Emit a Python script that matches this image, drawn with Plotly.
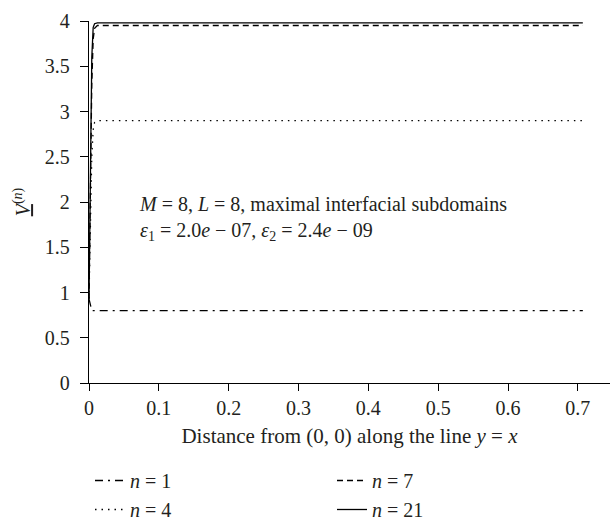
import plotly.graph_objects as go

# Data
dist = [0.0, 0.002, 0.004, 0.006, 0.008, 0.012, 0.7071]
v_n1 = [0.93, 0.86, 0.80, 0.80, 0.80, 0.80, 0.80]
v_n4 = [0.93, 1.80, 2.50, 2.80, 2.88, 2.90, 2.90]
v_n7 = [0.93, 2.20, 3.30, 3.80, 3.92, 3.95, 3.95]
v_n21 = [0.93, 2.40, 3.60, 3.93, 3.97, 3.98, 3.98]

x_ticks = [0, 0.1, 0.2, 0.3, 0.4, 0.5, 0.6, 0.7]
x_tick_labels = ["0", "0.1", "0.2", "0.3", "0.4", "0.5", "0.6", "0.7"]
y_ticks = [0, 0.5, 1, 1.5, 2, 2.5, 3, 3.5, 4]
y_tick_labels = ["0", "0.5", "1", "1.5", "2", "2.5", "3", "3.5", "4"]

FONT = "Liberation Serif"
INK = "#231f20"
TXT = dict(family=FONT, size=20, color=INK)

series = [
    ("<i>n</i> = 1", v_n1, "8px,5px,2px,5px", "legend", "g1"),
    ("<i>n</i> = 4", v_n4, "1.5px,5px", "legend", "g2"),
    ("<i>n</i> = 7", v_n7, "6px,4px", "legend2", "g3"),
    ("<i>n</i> = 21", v_n21, "solid", "legend2", "g4"),
]

fig = go.Figure()
for name, vals, dash, leg, grp in series:
    fig.add_trace(go.Scatter(
        x=dist, y=vals, mode="lines", name=name,
        line=dict(color="black", width=1.3, dash=dash),
        legend=leg, legendgroup=grp,
    ))

legend_common = dict(
    orientation="v", font=TXT,
    bgcolor="rgba(0,0,0,0)", borderwidth=0, tracegroupgap=0,
    xref="container", yref="container", yanchor="top", xanchor="left",
    itemwidth=30,
)

fig.update_layout(
    width=610, height=519,
    margin=dict(l=89, r=0, t=21, b=136, autoexpand=False),
    plot_bgcolor="white", paper_bgcolor="white",
    font=TXT,
    showlegend=True,
    legend=dict(x=90 / 610, y=1 - 461 / 519, **legend_common),
    legend2=dict(x=332 / 610, y=1 - 461 / 519, **legend_common),
    annotations=[
        dict(
            x=0.069, y=1.82, xref="x", yref="y", xanchor="left", yanchor="middle",
            align="left", showarrow=False,
            text=("<i>M</i> = 8, <i>L</i> = 8, maximal interfacial subdomains<br>"
                  "<i>ε</i><sub>1</sub> = 2.0<i>e</i> − 07, <i>ε</i><sub>2</sub> = 2.4<i>e</i> − 09"),
            font=TXT,
        ),
        dict(
            x=(22 - 89) / 521, y=(382.7 - 202) / 362, xref="paper", yref="paper",
            xanchor="center", yanchor="middle", textangle=-90, showarrow=False,
            text="<i><u>V</u></i><sup>(<i>n</i>)</sup>", font=TXT,
        ),
    ],
)

fig.update_xaxes(
    range=[0, 0.746], tickvals=x_ticks, ticktext=x_tick_labels, tickangle=0,
    tickfont=TXT,
    showline=True, linecolor="black", linewidth=1.3,
    ticks="outside", ticklen=7, tickwidth=1.3, tickcolor="black",
    showgrid=False, zeroline=False,
    title=dict(text="Distance from (0, 0) along the line <i>y</i> = <i>x</i>",
               font=dict(family=FONT, size=21, color=INK), standoff=10),
)
fig.update_yaxes(
    range=[0, 4], tickvals=y_ticks, ticktext=y_tick_labels,
    tickfont=TXT,
    showline=True, linecolor="black", linewidth=1.3,
    ticks="outside", ticklen=8, tickwidth=1.3, tickcolor="black",
    showgrid=False, zeroline=False, ticklabelstandoff=6,
)

fig.write_html(
    "out.html",
    config={"displayModeBar": False},
    post_script="document.body.style.margin='0px';document.body.style.overflow='hidden';",
)
